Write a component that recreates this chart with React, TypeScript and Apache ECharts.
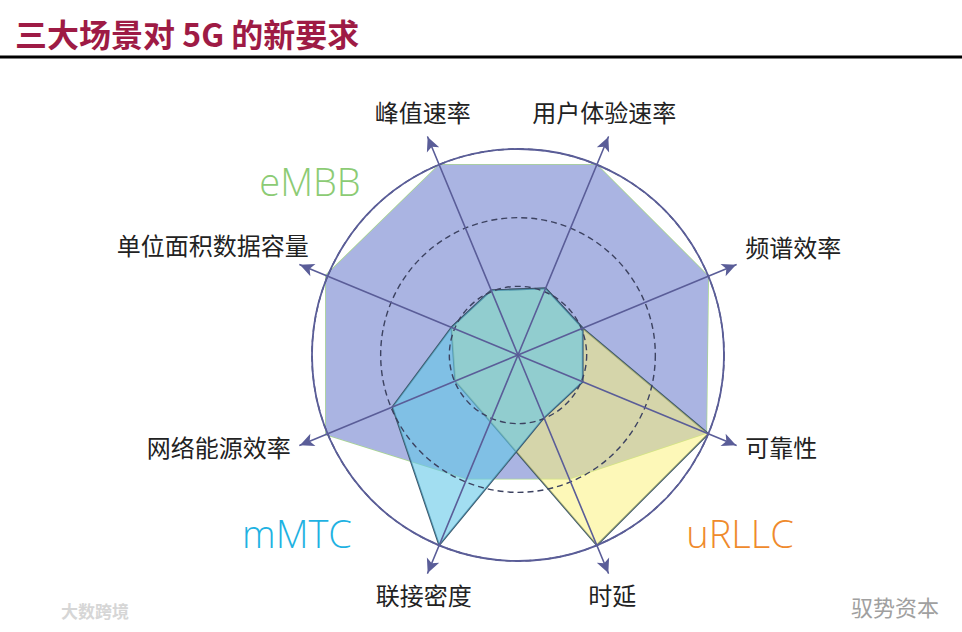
import React, { useEffect, useRef } from 'react';
import * as echarts from 'echarts';

// Indicators, counter-clockwise from the top-left axis
const indicatorNames = ['峰值速率', '单位面积数据容量', '网络能源效率', '联接密度', '时延', '可靠性', '频谱效率', '用户体验速率'];
const eMBBValues = [100, 101, 101, 65, 65, 99, 100, 100];
const mMTCValues = [34, 35, 66, 100, 33, 34, 34, 35];
const uRLLCValues = [34, 35, 33, 35, 100, 100, 34, 35];
const seriesNames = ['eMBB', 'mMTC', 'uRLLC'];
const titleText = '三大场景对 5G 的新要求';
const AXIS_MAX = 114.6;

// label placement per indicator (style only)
const nameStyles: any[] = [
  { align: 'center', verticalAlign: 'bottom', padding: [0, 2, 4, 0] },
  { align: 'right', verticalAlign: 'bottom', padding: [0, -18, 4, 0] },
  { align: 'right', verticalAlign: 'bottom', padding: [0, 0, -9, 0] },
  { align: 'center', verticalAlign: 'top', padding: [0, 0, 0, 0] },
  { align: 'center', verticalAlign: 'top', padding: [0, 0, 0, 0] },
  { align: 'left', verticalAlign: 'bottom', padding: [0, 0, -9, 0] },
  { align: 'left', verticalAlign: 'bottom', padding: [0, 0, 2, 0] },
  { align: 'center', verticalAlign: 'bottom', padding: [0, 16, 4, 0] },
];

export default function App() {
  const ref = useRef<HTMLDivElement>(null);
  useEffect(() => {
    const chart = echarts.init(ref.current!, undefined, { renderer: 'svg' });
    const axisColor = '#5a5d98';
    const center = [518, 355];
    chart.setOption({
      animation: false,
      backgroundColor: '#ffffff',
      title: {
        text: titleText,
        left: 10,
        top: 12,
        textStyle: { color: '#9e1b45', fontSize: 32, fontWeight: 'bold', fontFamily: 'Noto Sans CJK SC' },
      },
      radar: [
        {
          center,
          radius: 236,
          startAngle: 112.5,
          shape: 'circle',
          z: 10,
          indicator: indicatorNames.map((n, i) => ({
            name: n,
            max: AXIS_MAX,
            min: 0,
            nameTextStyle: { ...nameStyles[i] },
          })),
          axisName: { color: '#222', fontSize: 24, fontFamily: 'Noto Sans CJK SC' },
          nameGap: 10,
          axisLine: { show: true, symbol: ['none', 'arrow'], symbolSize: [10, 14], lineStyle: { color: axisColor, width: 1.6 } },
          splitLine: { show: false },
          splitArea: { show: false },
          axisTick: { show: false },
          axisLabel: { show: false },
        },
        {
          center,
          radius: 206,
          startAngle: 112.5,
          shape: 'circle',
          splitNumber: 3,
          z: 9,
          indicator: indicatorNames.map(() => ({ name: '', max: 3, min: 0 })),
          axisName: { show: false },
          axisLine: { show: false },
          splitLine: { show: true, lineStyle: { color: '#3c4260', width: 1.4, type: [6, 4] } },
          splitArea: { show: false },
        },
        {
          center,
          radius: 206,
          startAngle: 112.5,
          shape: 'circle',
          splitNumber: 1,
          z: 9,
          indicator: indicatorNames.map(() => ({ name: '', max: 1, min: 0 })),
          axisName: { show: false },
          axisLine: { show: false },
          splitLine: { show: true, lineStyle: { color: axisColor, width: 1.8 } },
          splitArea: { show: false },
        },
      ],
      series: [
        {
          type: 'radar',
          radarIndex: 0,
          z: 2,
          symbol: 'none',
          data: [
            {
              name: seriesNames[0],
              value: eMBBValues,
              lineStyle: { color: '#a8d68e', width: 1.5 },
              areaStyle: { color: 'rgb(170,180,226)', opacity: 1 },
            },
            {
              name: seriesNames[2],
              value: uRLLCValues,
              lineStyle: { color: '#3b5569', width: 1.8 },
              areaStyle: { color: 'rgb(251,241,121)', opacity: 0.53 },
            },
            {
              name: seriesNames[1],
              value: mMTCValues,
              lineStyle: { color: '#3b5569', width: 1.8 },
              areaStyle: { color: 'rgb(100,200,232)', opacity: 0.6 },
            },
          ],
        },
      ],
      graphic: [
        { type: 'line', shape: { x1: 0, y1: 57, x2: 962, y2: 57 }, style: { stroke: '#000', lineWidth: 3 } },
        {
          type: 'text', x: 310, y: 181,
          style: { text: seriesNames[0], fill: '#8ccb74', fontSize: 38, fontFamily: 'Open Sans', fontWeight: 300, align: 'center', verticalAlign: 'middle' },
        },
        {
          type: 'text', x: 297, y: 533,
          style: { text: seriesNames[1], fill: '#1fb2e2', fontSize: 38, fontFamily: 'Open Sans', fontWeight: 300, align: 'center', verticalAlign: 'middle' },
        },
        {
          type: 'text', x: 740, y: 533,
          style: { text: seriesNames[2], fill: '#ef8a2c', fontSize: 38, fontFamily: 'Open Sans', fontWeight: 300, align: 'center', verticalAlign: 'middle' },
        },
        {
          type: 'text', x: 95, y: 610,
          style: { text: '大数跨境', fill: '#d6d6d6', fontSize: 17, fontFamily: 'Noto Sans CJK SC', fontWeight: 'bold', align: 'center', verticalAlign: 'middle' },
        },
        {
          type: 'text', x: 895, y: 606,
          style: { text: '驭势资本', fill: '#a0a0a0', fontSize: 22, fontFamily: 'Noto Sans CJK SC', align: 'center', verticalAlign: 'middle' },
        },
      ],
    });
    return () => chart.dispose();
  }, []);
  return <div ref={ref} style={{ position: 'fixed', left: 0, top: 0, width: 962, height: 632 }} />;
}
